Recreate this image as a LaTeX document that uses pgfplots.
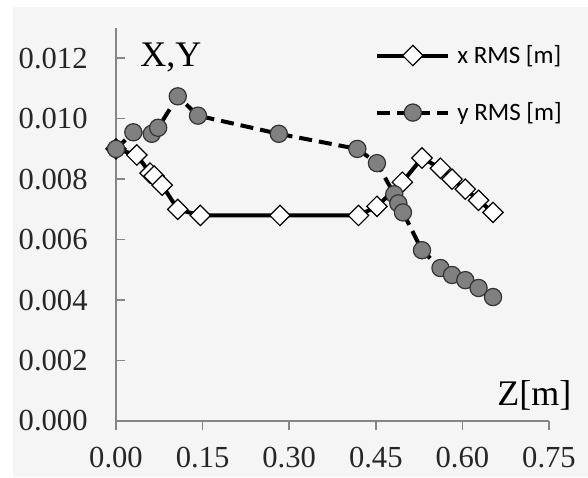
\documentclass[border=0pt]{standalone}
\usepackage{pgfplots}
\pgfplotsset{compat=1.18}
\usepackage{fontspec}
\setmainfont{Liberation Serif}
\newfontfamily\legfont{Carlito}
\definecolor{bg}{RGB}{245,245,245}
\definecolor{axgray}{RGB}{134,134,134}
\definecolor{mkgray}{RGB}{128,128,128}
\begin{document}
\begin{tikzpicture}
\path[use as bounding box] (-58pt,-28pt) rectangle (236pt,210.5pt);
\fill[white] (-58pt,-28pt) rectangle (236pt,210.5pt);
\fill[bg] (-51.5pt,-28pt) rectangle (236pt,207pt);
\begin{axis}[
  at={(0pt,0pt)}, anchor=south west,
  width=216.5pt, height=196.5pt, scale only axis,
  xmin=0, xmax=0.75, ymin=0, ymax=0.013,
  axis lines*=left,
  axis line style={axgray, line width=0.75pt},
  clip=false,
  xtick={0,0.15,0.3,0.45,0.6,0.75},
  ytick={0,0.002,0.004,0.006,0.008,0.010,0.012},
  scaled x ticks=false, scaled y ticks=false,
  tick align=inside,
  major tick length=4.5pt,
  tick style={axgray, line width=0.75pt},
  x tick style={yshift=-4.5pt},
  /pgf/number format/assume math mode=true,
  xticklabel style={/pgf/number format/.cd, fixed, fixed zerofill, precision=2, /tikz/.cd, anchor=base, inner sep=0pt, yshift=-23pt},
  yticklabel style={/pgf/number format/.cd, fixed, fixed zerofill, precision=3, /tikz/.cd, anchor=east, inner sep=0pt, xshift=-14pt},
  tick label style={font=\fontsize{15.3}{18}\selectfont, text=black!85},
  legend style={draw=none, fill=none, at={(axis description cs:0.598,0.968)}, anchor=north west,
    font=\legfont\fontsize{12.5}{14}\selectfont, row sep=14pt, inner sep=0pt,
    /tikz/every odd column/.append style={column sep=1.5pt}},
  legend cell align=left,
  legend image code/.code={\draw[mark repeat=2,mark phase=2,#1] plot coordinates {(0pt,0pt) (17.75pt,0pt) (35.5pt,0pt)};},
]
\addplot[black, line width=2pt, mark=square*, mark size=3.6pt,
  mark options={solid, fill=white, draw=black, line width=0.6pt, rotate=45}]
  coordinates {
  (0,0.0090) (0.036,0.0088) (0.059,0.0082) (0.066,0.0081) (0.080,0.0078)
  (0.107,0.0070) (0.146,0.0068) (0.284,0.0068) (0.420,0.0068) (0.452,0.0071)
  (0.496,0.0079) (0.530,0.0087) (0.562,0.00836) (0.582,0.0080) (0.605,0.00767)
  (0.628,0.0073) (0.653,0.0069)};
\addlegendentry{x RMS [m]}
\addplot[black, line width=2pt, dash pattern=on 6.5pt off 3.5pt, mark=*, mark size=4.3pt,
  mark options={solid, fill=mkgray, draw=black!80, line width=0.6pt}]
  coordinates {
  (0,0.0090) (0.030,0.00955) (0.062,0.0095) (0.073,0.0097) (0.107,0.01074)
  (0.142,0.0101) (0.282,0.0095) (0.418,0.0090) (0.452,0.00853) (0.482,0.0075)
  (0.489,0.0072) (0.497,0.0069) (0.530,0.00565) (0.562,0.00506) (0.582,0.00483)
  (0.605,0.00466) (0.628,0.0044) (0.653,0.0041)};
\addlegendentry{y RMS [m]}
\end{axis}
\node[anchor=base west, inner sep=0pt, font=\fontsize{18}{20}\selectfont] at (12pt,177pt) {X,Y};
\node[anchor=base west, inner sep=0pt, font=\fontsize{18}{20}\selectfont] at (190.5pt,8pt) {Z[m]};
\end{tikzpicture}
\end{document}
